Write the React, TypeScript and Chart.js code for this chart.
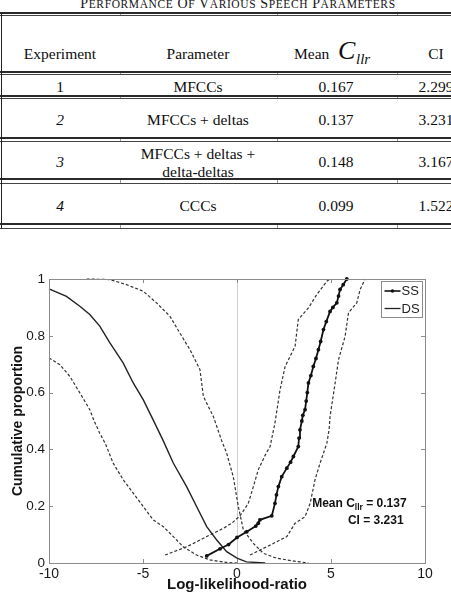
import React, { useEffect, useRef } from "react";
import { Chart, registerables } from "chart.js";

Chart.register(...registerables);

// ---- Table content ----
const TITLE_WORDS = ["Performance", "of", "Various", "Speech", "Parameters"];
const EXPERIMENTS = ["1", "2", "3", "4"];
const PARAMETERS = [["MFCCs"], ["MFCCs + deltas"], ["MFCCs + deltas +", "delta-deltas"], ["CCCs"]];
const MEAN_CLLR = ["0.167", "0.137", "0.148", "0.099"];
const CI_VALUES = ["2.299", "3.231", "3.167", "1.522"];

// ---- Tippett plot data (log-likelihood-ratio vs cumulative proportion) ----
const X_TICKS = [-10, -5, 0, 5, 10];
const Y_TICKS = [0, 0.2, 0.4, 0.6, 0.8, 1];

// same-speaker comparisons, mean curve (with markers)
const SS_X = [-1.61, -0.9, -0.45, 0, 0.52, 1.0, 1.13, 1.22, 1.85, 2.02, 2.1, 2.2, 2.38, 2.65, 2.85, 3.0, 3.26, 3.3, 3.35, 3.45, 3.5, 3.62, 3.68, 3.74, 3.8, 3.93, 4.06, 4.2, 4.33, 4.45, 4.6, 4.75, 4.95, 5.1, 5.31, 5.4, 5.48, 5.65, 5.84];
const SS_Y = [0.025, 0.05, 0.065, 0.09, 0.11, 0.13, 0.14, 0.152, 0.166, 0.21, 0.24, 0.269, 0.304, 0.334, 0.355, 0.375, 0.41, 0.44, 0.469, 0.5, 0.52, 0.54, 0.57, 0.6, 0.634, 0.66, 0.692, 0.72, 0.751, 0.78, 0.822, 0.85, 0.886, 0.9, 0.916, 0.94, 0.963, 0.98, 1.0];
// same-speaker confidence bounds
const SS_LOW_X = [-3.83, -2.68, -1.61, -0.73, -0.28, 0.16, 0.6, 0.87, 1.13, 1.5, 1.76, 2.02, 2.29, 2.56, 3.09, 3.26, 3.8, 4.24, 4.78, 4.95];
const SS_LOW_Y = [0.028, 0.057, 0.093, 0.122, 0.14, 0.166, 0.21, 0.269, 0.328, 0.38, 0.41, 0.493, 0.61, 0.692, 0.763, 0.857, 0.898, 0.945, 0.992, 1.0];
const SS_HIGH_X = [0.69, 1.76, 2.65, 3.09, 3.62, 3.89, 4.15, 4.42, 4.78, 4.9, 4.95, 5.22, 5.4, 5.75, 5.93, 6.37, 6.55, 6.82];
const SS_HIGH_Y = [0.028, 0.063, 0.093, 0.14, 0.163, 0.21, 0.293, 0.352, 0.422, 0.47, 0.516, 0.634, 0.716, 0.798, 0.881, 0.916, 0.963, 1.0];

// different-speaker comparisons, mean curve
const DS_X = [-10, -9.07, -8.36, -7.83, -7.3, -6.76, -6.05, -5.52, -4.99, -4.46, -3.92, -3.39, -2.68, -2.15, -1.61, -1.08, -0.55, 0, 0.5, 1.5];
const DS_Y = [0.965, 0.939, 0.904, 0.875, 0.834, 0.775, 0.704, 0.634, 0.575, 0.504, 0.43, 0.352, 0.269, 0.199, 0.128, 0.081, 0.04, 0.017, 0.004, 0];
// different-speaker confidence bounds
const DS_HIGH_X = [-8.0, -6.76, -5.87, -4.99, -4.28, -3.57, -3.04, -2.5, -1.97, -1.79, -1.26, -0.81, -0.55, -0.2, 0.07, 0.34, 0.87, 1.4, 2.1, 2.9, 3.8];
const DS_HIGH_Y = [1.0, 0.998, 0.98, 0.957, 0.916, 0.869, 0.81, 0.751, 0.681, 0.587, 0.516, 0.43, 0.387, 0.304, 0.199, 0.116, 0.069, 0.034, 0.017, 0.008, 0];
const DS_LOW_X = [-10, -9.42, -8.89, -8.36, -7.83, -7.6, -7.3, -7.0, -6.59, -6.05, -5.52, -4.99, -4.46, -3.92, -3.39, -2.86, -2.15, -1.44, -0.55, 0];
const DS_LOW_Y = [0.722, 0.698, 0.657, 0.599, 0.54, 0.5, 0.457, 0.42, 0.352, 0.293, 0.246, 0.199, 0.152, 0.128, 0.093, 0.057, 0.028, 0.011, 0.002, 0];

const MEAN_CLLR_LABEL = "0.137";
const CI_LABEL = "3.231";

const SERIF = "'Liberation Serif', 'Times New Roman', serif";
const SANS = "'Liberation Sans', Arial, Helvetica, sans-serif";

const toPoints = (xs: number[], ys: number[]) => xs.map((x, i) => ({ x, y: ys[i] }));

// ---- Table layout ----
const RULES: [number, number][] = [[12, 14.5], [71, 73.5], [95, 98], [137, 140.5], [178, 183], [223, 228]];
const COL_EDGES = [120, 277, 397];
const COL_X = { exp: 60, param: 198, mean: 336, ci: 436 };
const ROW_CY = [86.5, 120, 162, 206];

function Cell(props: { x: number; cy: number; italic?: boolean; children: React.ReactNode }) {
  return (
    <div
      style={{
        position: "absolute",
        left: props.x - 100,
        width: 200,
        top: props.cy - 9,
        lineHeight: "18px",
        fontSize: 15.5,
        textAlign: "center",
        whiteSpace: "nowrap",
        fontStyle: props.italic ? "italic" : "normal",
        color: "#0e0e0e",
      }}
    >
      {props.children}
    </div>
  );
}

function ResultsTable() {
  return (
    <div style={{ position: "absolute", left: 0, top: 0, width: 451, height: 235, fontFamily: SERIF }}>
      {/* caption */}
      <div
        style={{
          position: "absolute",
          left: 0,
          width: 476,
          top: -4.2,
          fontSize: 14,
          lineHeight: "16px",
          textAlign: "center",
          whiteSpace: "nowrap",
          letterSpacing: 0.6,
          color: "#141414",
        }}
      >
        {TITLE_WORDS.map((w, i) => (
          <React.Fragment key={w}>
            {i > 0 ? " " : ""}
            <span>{w[0].toUpperCase()}</span>
            <span style={{ fontSize: 11.5 }}>{w.slice(1).toUpperCase()}</span>
          </React.Fragment>
        ))}
      </div>

      {/* double rules */}
      {RULES.map(([a, b], i) => (
        <React.Fragment key={i}>
          <div style={{ position: "absolute", left: 0, width: 476, top: a, height: 1.5, background: "#2a2a2a" }} />
          <div style={{ position: "absolute", left: 0, width: 476, top: b, height: 1.2, background: "#444" }} />
          {COL_EDGES.map((cx) => (
            <div key={cx} style={{ position: "absolute", left: cx, width: 1, top: a + 1.5, height: b - a - 1.5, background: "#999" }} />
          ))}
        </React.Fragment>
      ))}
      {/* left frame */}
      <div style={{ position: "absolute", left: 0.5, width: 1.5, top: 12, height: 217, background: "#222" }} />

      {/* header */}
      <Cell x={COL_X.exp} cy={54}>Experiment</Cell>
      <Cell x={COL_X.param} cy={54}>Parameter</Cell>
      <div style={{ position: "absolute", left: 294, top: 45, lineHeight: "18px", fontSize: 15.5, color: "#0e0e0e" }}>Mean</div>
      <div style={{ position: "absolute", left: 338, top: 36.2, lineHeight: "30px", fontSize: 26, fontStyle: "italic", color: "#0e0e0e" }}>C</div>
      <div style={{ position: "absolute", left: 356, top: 50.4, lineHeight: "18px", fontSize: 15, fontStyle: "italic", color: "#0e0e0e" }}>llr</div>
      <Cell x={COL_X.ci} cy={54}>CI</Cell>

      {/* rows */}
      {EXPERIMENTS.map((e, r) => (
        <React.Fragment key={e}>
          <Cell x={COL_X.exp} cy={ROW_CY[r]} italic={r > 0}>{e}</Cell>
          {PARAMETERS[r].length === 1 ? (
            <Cell x={COL_X.param} cy={ROW_CY[r]}>{PARAMETERS[r][0]}</Cell>
          ) : (
            PARAMETERS[r].map((line, k) => (
              <Cell key={k} x={COL_X.param} cy={ROW_CY[r] - 8 + k * 17.5}>{line}</Cell>
            ))
          )}
          <Cell x={COL_X.mean} cy={ROW_CY[r]}>{MEAN_CLLR[r]}</Cell>
          <Cell x={COL_X.ci} cy={ROW_CY[r]}>{CI_VALUES[r]}</Cell>
        </React.Fragment>
      ))}
    </div>
  );
}

// ---- Chart plugins ----
const framePlugin = {
  id: "frameTicks",
  afterDraw(chart: any) {
    const { ctx, chartArea, scales } = chart;
    const { left, right, top, bottom } = chartArea;
    ctx.save();
    ctx.strokeStyle = "#8c8c8c";
    ctx.lineWidth = 1;
    ctx.strokeRect(Math.round(left) + 0.5, Math.round(top) + 0.5, Math.round(right - left), Math.round(bottom - top));
    const t = 4;
    ctx.beginPath();
    X_TICKS.forEach((v) => {
      const px = Math.round(scales.x.getPixelForValue(v)) + 0.5;
      ctx.moveTo(px, bottom);
      ctx.lineTo(px, bottom - t);
      ctx.moveTo(px, top);
      ctx.lineTo(px, top + t);
    });
    Y_TICKS.forEach((v) => {
      const py = Math.round(scales.y.getPixelForValue(v)) + 0.5;
      ctx.moveTo(left, py);
      ctx.lineTo(left + t, py);
      ctx.moveTo(right, py);
      ctx.lineTo(right - t, py);
    });
    ctx.stroke();
    ctx.restore();
  },
};

const legendPlugin = {
  id: "insideLegend",
  afterDraw(chart: any) {
    const { ctx, chartArea } = chart;
    const ds = chart.data.datasets;
    const w = 41;
    const h = 36;
    const x0 = Math.round(chartArea.right - 3 - w) + 0.5;
    const y0 = Math.round(chartArea.top + 2) + 0.5;
    ctx.save();
    ctx.fillStyle = "#fff";
    ctx.fillRect(x0, y0, w, h);
    ctx.strokeStyle = "#8c8c8c";
    ctx.lineWidth = 1;
    ctx.strokeRect(x0, y0, w, h);
    ctx.font = `13px ${SANS}`;
    ctx.textBaseline = "middle";
    ctx.fillStyle = "#222";
    [0, 1].forEach((i) => {
      const cy = y0 + 9.5 + i * 17.5;
      ctx.strokeStyle = ds[i].borderColor;
      ctx.lineWidth = i === 0 ? 1.6 : 1.3;
      ctx.beginPath();
      ctx.moveTo(x0 + 3, cy);
      ctx.lineTo(x0 + 19, cy);
      ctx.stroke();
      if (i === 0) {
        ctx.beginPath();
        ctx.arc(x0 + 11, cy, 1.8, 0, Math.PI * 2);
        ctx.fillStyle = "#111";
        ctx.fill();
        ctx.fillStyle = "#222";
      }
      ctx.fillText(ds[i].label, x0 + 20, cy + 0.5);
    });
    ctx.restore();
  },
};

const annotationPlugin = {
  id: "cllrNote",
  afterDraw(chart: any) {
    const { ctx, scales } = chart;
    ctx.save();
    ctx.fillStyle = "#111";
    ctx.textBaseline = "alphabetic";
    const x1 = scales.x.getPixelForValue(4.0);
    const y1 = scales.y.getPixelForValue(0.196);
    ctx.font = `bold 12px ${SANS}`;
    let cx = x1;
    const head = "Mean C";
    ctx.fillText(head, cx, y1);
    cx += ctx.measureText(head).width;
    ctx.font = `bold 8.5px ${SANS}`;
    ctx.fillText("llr", cx, y1 + 3);
    cx += ctx.measureText("llr").width;
    ctx.font = `bold 12px ${SANS}`;
    ctx.fillText(` = ${MEAN_CLLR_LABEL}`, cx, y1);
    const x2 = scales.x.getPixelForValue(5.9);
    const y2 = scales.y.getPixelForValue(0.137);
    ctx.fillText(`CI = ${CI_LABEL}`, x2, y2);
    ctx.restore();
  },
};

function TippettChart() {
  const ref = useRef<HTMLCanvasElement | null>(null);

  useEffect(() => {
    if (!ref.current) return;
    const dashed = { borderColor: "#333", borderWidth: 1.2, borderDash: [3, 2], pointRadius: 0, showLine: true, clip: false as any };
    const chart = new Chart(ref.current, {
      type: "scatter",
      data: {
        datasets: [
          {
            label: "SS",
            data: toPoints(SS_X, SS_Y),
            showLine: true,
            borderColor: "#111",
            borderWidth: 1.8,
            pointRadius: 1.9,
            pointBackgroundColor: "#111",
            pointBorderWidth: 0,
            clip: false as any,
          },
          {
            label: "DS",
            data: toPoints(DS_X, DS_Y),
            showLine: true,
            borderColor: "#222",
            borderWidth: 1.4,
            pointRadius: 0,
            clip: false as any,
          },
          { label: "SS low", data: toPoints(SS_LOW_X, SS_LOW_Y), ...dashed },
          { label: "SS high", data: toPoints(SS_HIGH_X, SS_HIGH_Y), ...dashed },
          { label: "DS high", data: toPoints(DS_HIGH_X, DS_HIGH_Y), ...dashed },
          { label: "DS low", data: toPoints(DS_LOW_X, DS_LOW_Y), ...dashed },
        ],
      },
      options: {
        responsive: false,
        animation: false,
        events: [],
        layout: { padding: { top: 39, right: 26, left: 0, bottom: 0 } },
        plugins: { legend: { display: false }, tooltip: { enabled: false } },
        scales: {
          x: {
            type: "linear",
            min: -10,
            max: 10,
            afterBuildTicks: (s: any) => {
              s.ticks = X_TICKS.map((v) => ({ value: v }));
            },
            afterFit: (s: any) => {
              s.height = 32;
            },
            ticks: {
              color: "#1a1a1a",
              font: { family: SANS, size: 14 },
              padding: 3,
              maxRotation: 0,
              autoSkip: false,
              callback: (v: any) => `${v}`,
            },
            grid: {
              drawTicks: false,
              color: (c: any) => (c.tick && c.tick.value === 0 ? "#cfcfcf" : "rgba(0,0,0,0)"),
              lineWidth: 1,
            },
            border: { display: false },
            title: {
              display: true,
              text: "Log-likelihood-ratio",
              color: "#141414",
              font: { family: SANS, size: 15, weight: "bold" },
              padding: { top: 0, bottom: 1 },
            },
          },
          y: {
            type: "linear",
            min: 0,
            max: 1,
            afterBuildTicks: (s: any) => {
              s.ticks = Y_TICKS.map((v) => ({ value: v }));
            },
            afterFit: (s: any) => {
              s.width = 49;
            },
            ticks: {
              color: "#1a1a1a",
              font: { family: SANS, size: 13.5 },
              padding: 4,
              callback: (v: any) => `${v}`,
            },
            grid: { drawTicks: false, color: "rgba(0,0,0,0)" },
            border: { display: false },
            title: {
              display: true,
              text: "Cumulative proportion",
              color: "#141414",
              font: { family: SANS, size: 14, weight: "bold" },
              padding: { top: 10, bottom: 0 },
            },
          },
        },
      } as any,
      plugins: [framePlugin, legendPlugin, annotationPlugin],
    });
    return () => chart.destroy();
  }, []);

  return <canvas ref={ref} width={451} height={355} style={{ position: "absolute", left: 0, top: 240, width: 451, height: 355 }} />;
}

export default function App() {
  return (
    <div style={{ position: "fixed", left: 0, top: 0, width: 451, height: 595, background: "#fff", overflow: "hidden" }}>
      <ResultsTable />
      <TippettChart />
    </div>
  );
}
